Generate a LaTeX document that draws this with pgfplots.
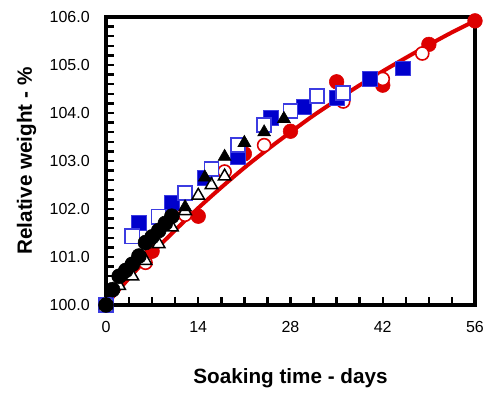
\documentclass[border=0pt]{standalone}
\usepackage{fontspec}
\setmainfont{Liberation Sans}
\usepackage{pgfplots}
\pgfplotsset{compat=1.18}
\definecolor{myred}{RGB}{221,0,0}
\definecolor{myblue}{RGB}{0,0,204}
\definecolor{myblueedge}{RGB}{60,60,225}
\begin{document}
\begin{tikzpicture}
\path (0pt,0pt) rectangle (366pt,291.75pt);
\begin{axis}[
  at={(79.5pt,63pt)}, anchor=south west,
  width=276.75pt, height=216pt, scale only axis,
  xmin=0, xmax=56, ymin=100, ymax=106,
  clip=false,
  axis line style={line width=2.4pt},
  tick style={black, line width=1.8pt},
  major tick length=6pt, minor tick length=6pt,
  tick align=inside, xtick pos=left, ytick pos=left,
  xtick={0,14,28,42,56}, minor xtick={3.5,7,...,52.5},
  ytick={100,101,...,106}, minor ytick={100.2,100.4,...,105.9},
  /pgf/number format/assume math mode=true,
  tick label style={font=\fontsize{12}{14}\selectfont},
  yticklabel style={/pgf/number format/fixed, /pgf/number format/fixed zerofill, /pgf/number format/precision=1},
  every x tick label/.append style={anchor=north, inner sep=0pt, yshift=-12.4pt},
  every y tick label/.append style={anchor=east, inner sep=0pt, xshift=-12pt},
  xlabel={Soaking time - days},
  ylabel={Relative weight - \%},
  every axis x label/.style={at={(axis description cs:0.5,0)}, anchor=base, yshift=-58.7pt, font=\fontsize{15.5}{18}\bfseries\selectfont},
  every axis y label/.style={at={(axis description cs:0,0.5)}, xshift=-55.5pt, rotate=90, anchor=base, font=\fontsize{15.5}{18}\bfseries\selectfont},
]
% inward tick stubs on the bottom and left spines
\pgfplotsinvokeforeach{3.5,7,10.5,14,17.5,21,24.5,28,31.5,35,38.5,42,45.5,49,52.5}{
  \draw[black, line width=1.8pt] (axis cs:#1,100) -- ++(0pt,6pt);
}
\pgfplotsinvokeforeach{100.2,100.4,100.6,100.8,101,101.2,101.4,101.6,101.8,102,102.2,102.4,102.6,102.8,103,103.2,103.4,103.6,103.8,104,104.2,104.4,104.6,104.8,105,105.2,105.4,105.6,105.8}{
  \draw[black, line width=1.8pt] (axis cs:0,#1) -- ++(6pt,0pt);
}
% fitted curve
\addplot[myred, line width=3pt, smooth, no marks] coordinates {
 (0,100) (3.5,100.56) (7,101.08) (10.5,101.56) (14,102.02) (17.5,102.45) (21,102.86)
 (24.5,103.24) (28,103.60) (31.5,103.95) (35,104.27) (38.5,104.58) (42,104.87)
 (45.5,105.15) (49,105.42) (52.5,105.68) (56,105.92)};
% red filled circles
\addplot[only marks, mark=*, mark size=5.5pt, draw=myred, fill=myred] coordinates {
 (0,100) (7,101.12) (14,101.85) (21,103.15) (28,103.62) (35,104.65) (42,104.58) (49,105.43) (56,105.92)};
% red open circles
\addplot[only marks, mark=*, mark size=4.9pt, draw=myred, fill=white, line width=1.2pt] coordinates {
 (0,100) (6,100.88) (12,101.88) (18,102.78) (24,103.33) (30,104.12) (36,104.24) (42,104.71) (48,105.24)};
% blue filled squares
\addplot[only marks, mark=square*, mark size=5.6pt, draw=myblueedge, fill=myblue, line width=0.6pt] coordinates {
 (0,100) (5,101.72) (10,102.12) (15,102.65) (20,103.08) (25,103.9) (30,104.13) (35,104.32) (40,104.72) (45,104.93)};
% blue open squares
\addplot[only marks, mark=square*, mark size=5.3pt, draw=myblueedge, fill=white, line width=1.2pt] coordinates {
 (0,100) (4,101.43) (8,101.84) (12,102.33) (16,102.83) (20,103.33) (24,103.75) (28,104.04) (32,104.35) (36,104.42)};
% open triangles
\addplot[only marks, mark=triangle*, mark size=5.4pt, draw=black, fill=white, line width=1.1pt] coordinates {
 (0,100) (2,100.4) (4,100.6) (6,100.92) (8,101.27) (10,101.62) (12,101.96) (14,102.28) (16,102.5) (18,102.68)};
% black triangles
\addplot[only marks, mark=triangle*, mark size=5.6pt, draw=black, fill=black] coordinates {
 (0,100) (3,100.75) (6,101.3) (9,101.7) (12,102.04) (15,102.66) (18,103.09) (21,103.38) (24,103.6) (27,103.88)};
% black circles
\addplot[only marks, mark=*, mark size=5.6pt, draw=black, fill=black] coordinates {
 (0,100) (1,100.32) (2,100.6) (3,100.72) (4,100.85) (5,101.02) (6,101.3) (7,101.42) (8,101.55) (9,101.7) (10,101.85)};
\end{axis}
\end{tikzpicture}
\end{document}
